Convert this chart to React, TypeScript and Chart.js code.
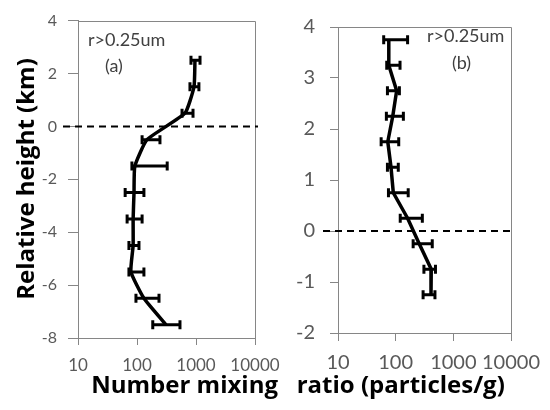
import React, { useEffect, useRef } from "react";
import { Chart, registerables } from "chart.js";

Chart.register(...registerables);

// Panel (a)
const heightsA = [2.5, 1.5, 0.5, -0.5, -1.5, -2.5, -3.5, -4.5, -5.5, -6.5, -7.5];
const valuesA = [960, 925, 650, 148, 92, 89, 86, 86, 79, 131, 310];
const lowA = [822, 790, 580, 122, 82, 63, 68, 73, 73, 96, 185];
const highA = [1170, 1120, 890, 245, 325, 131, 122, 108, 131, 236, 535];

// Panel (b)
const heightsB = [3.75, 3.25, 2.75, 2.25, 1.75, 1.25, 0.75, 0.25, -0.25, -0.75, -1.25];
const valuesB = [76, 76, 104, 89, 73, 83, 91, 161, 256, 414, 410];
const lowB = [62, 70, 72, 69, 56, 72, 75, 120, 201, 309, 299];
const highB = [161, 119, 116, 136, 113, 111, 165, 290, 431, 490, 480];

const xTickValues = [10, 100, 1000, 10000];
const yTicksA = [-8, -6, -4, -2, 0, 2, 4];
const yTicksB = [-2, -1, 0, 1, 2, 3, 4];

const sizeLabel = "r>0.25um";
const panelLabelA = "(a)";
const panelLabelB = "(b)";
const yTitle = "Relative height (km)";
const xTitle = "Number mixing   ratio (particles/g)";

const GRAY = "#868686";
const TICK_COLOR = "#595959";
const FONT = "Lato, 'Open Sans', sans-serif";
const TITLE_FONT = "'Open Sans', Lato, sans-serif";

type PanelCfg = {
  heights: number[];
  values: number[];
  low: number[];
  high: number[];
  yTicks: number[];
  tension: number;
  padding: { left: number; right: number; top: number; bottom: number };
  yWidth: number;
  xHeight: number;
  yTickLen: number;
  yTickPad: number;
  yFont: number;
  xTickLen: number;
  xTickPad: number;
  xFont: number;
  texts: (chart: any, ctx: CanvasRenderingContext2D) => void;
};

function makeConfig(cfg: PanelCfg): any {
  const extras = {
    id: "extras",
    afterDatasetsDraw(chart: any) {
      const ctx: CanvasRenderingContext2D = chart.ctx;
      const { left, right, top, bottom } = chart.chartArea;
      const xs = chart.scales.x;
      const ys = chart.scales.y;
      ctx.save();
      // frame top & right
      ctx.strokeStyle = GRAY;
      ctx.lineWidth = 1;
      ctx.beginPath();
      ctx.moveTo(left, Math.round(top) + 0.5);
      ctx.lineTo(Math.round(right) + 0.5, Math.round(top) + 0.5);
      ctx.lineTo(Math.round(right) + 0.5, bottom);
      ctx.stroke();
      // dashed zero line
      const y0 = ys.getPixelForValue(0);
      ctx.strokeStyle = "#000";
      ctx.lineWidth = 2;
      ctx.setLineDash([7, 5]);
      ctx.beginPath();
      ctx.moveTo(left - 15, y0);
      ctx.lineTo(right + 3, y0);
      ctx.stroke();
      ctx.setLineDash([]);
      // error bars
      ctx.lineWidth = 3;
      ctx.lineCap = "butt";
      for (let i = 0; i < cfg.heights.length; i++) {
        const y = ys.getPixelForValue(cfg.heights[i]);
        const x1 = xs.getPixelForValue(cfg.low[i]);
        const x2 = xs.getPixelForValue(cfg.high[i]);
        ctx.beginPath();
        ctx.moveTo(x1, y);
        ctx.lineTo(x2, y);
        ctx.moveTo(x1, y - 4.5);
        ctx.lineTo(x1, y + 4.5);
        ctx.moveTo(x2, y - 4.5);
        ctx.lineTo(x2, y + 4.5);
        ctx.stroke();
      }
      cfg.texts(chart, ctx);
      ctx.restore();
    },
  };

  return {
    type: "scatter",
    data: {
      datasets: [
        {
          data: cfg.heights.map((h, i) => ({ x: cfg.values[i], y: h })),
          showLine: true,
          borderColor: "#000",
          backgroundColor: "#000",
          borderWidth: 3.5,
          pointRadius: 0,
          tension: cfg.tension,
        },
      ],
    },
    options: {
      responsive: false,
      animation: false,
      layout: { padding: cfg.padding, autoPadding: false },
      plugins: { legend: { display: false }, tooltip: { enabled: false } },
      scales: {
        x: {
          type: "logarithmic",
          min: 10,
          max: 10000,
          afterBuildTicks: (s: any) => {
            s.ticks = xTickValues.map((v) => ({ value: v }));
          },
          afterFit: (s: any) => {
            s.height = cfg.xHeight;
          },
          ticks: {
            autoSkip: false,
            maxRotation: 0,
            color: TICK_COLOR,
            padding: cfg.xTickPad,
            font: { family: FONT, size: cfg.xFont },
            callback: (v: any) => String(v),
          },
          grid: {
            drawOnChartArea: false,
            drawTicks: true,
            tickLength: cfg.xTickLen,
            color: GRAY,
          },
          border: { display: true, color: GRAY, width: 1 },
        },
        y: {
          type: "linear",
          min: cfg.yTicks[0],
          max: cfg.yTicks[cfg.yTicks.length - 1],
          afterBuildTicks: (s: any) => {
            s.ticks = cfg.yTicks.map((v) => ({ value: v }));
          },
          afterFit: (s: any) => {
            s.width = cfg.yWidth;
          },
          ticks: {
            color: TICK_COLOR,
            padding: cfg.yTickPad,
            font: { family: FONT, size: cfg.yFont },
            callback: (v: any) => String(v),
          },
          grid: {
            drawOnChartArea: false,
            drawTicks: true,
            tickLength: cfg.yTickLen,
            color: GRAY,
          },
          border: { display: true, color: GRAY, width: 1 },
        },
      },
    },
    plugins: [extras],
  };
}

const cfgA: PanelCfg = {
  heights: heightsA,
  values: valuesA,
  low: lowA,
  high: highA,
  yTicks: yTicksA,
  tension: 0.15,
  padding: { left: 0, right: 295, top: 20, bottom: 0 },
  yWidth: 78,
  xHeight: 72,
  yTickLen: 10,
  yTickPad: 11,
  yFont: 16,
  xTickLen: 7,
  xTickPad: 10,
  xFont: 17,
  texts: (chart, ctx) => {
    ctx.fillStyle = "#404040";
    ctx.font = `18px ${FONT}`;
    ctx.textAlign = "left";
    ctx.textBaseline = "alphabetic";
    ctx.fillText(sizeLabel, 88, 46);
    ctx.fillText(panelLabelA, 105, 72);
    // axis titles
    ctx.fillStyle = "#000";
    ctx.font = `bold 24px ${TITLE_FONT}`;
    ctx.textAlign = "center";
    ctx.textBaseline = "middle";
    ctx.save();
    ctx.translate(27, 179);
    ctx.rotate(-Math.PI / 2);
    ctx.fillText(yTitle, 0, 0);
    ctx.restore();
    ctx.textBaseline = "alphabetic";
    ctx.fillText(xTitle, 298, 393);
  },
};

const cfgB: PanelCfg = {
  heights: heightsB,
  values: valuesB,
  low: lowB,
  high: highB,
  yTicks: yTicksB,
  tension: 0,
  padding: { left: 275, right: 37, top: 17, bottom: 0 },
  yWidth: 63,
  xHeight: 77,
  yTickLen: 8,
  yTickPad: 15,
  yFont: 20,
  xTickLen: 8,
  xTickPad: 10,
  xFont: 20,
  texts: (chart, ctx) => {
    ctx.fillStyle = "#404040";
    ctx.font = `18px ${FONT}`;
    ctx.textAlign = "left";
    ctx.textBaseline = "alphabetic";
    ctx.fillText(sizeLabel, 427, 42);
    ctx.fillText(panelLabelB, 452, 69);
  },
};

function Panel({ cfg }: { cfg: PanelCfg }) {
  const ref = useRef<HTMLCanvasElement | null>(null);
  useEffect(() => {
    if (!ref.current) return;
    const chart = new Chart(ref.current, makeConfig(cfg));
    return () => chart.destroy();
  }, [cfg]);
  return (
    <canvas
      ref={ref}
      width={550}
      height={410}
      style={{ position: "absolute", left: 0, top: 0, width: 550, height: 410 }}
    />
  );
}

export default function App() {
  return (
    <div
      style={{
        position: "fixed",
        left: 0,
        top: 0,
        width: 550,
        height: 410,
        background: "#fff",
      }}
    >
      <Panel cfg={cfgA} />
      <Panel cfg={cfgB} />
    </div>
  );
}
